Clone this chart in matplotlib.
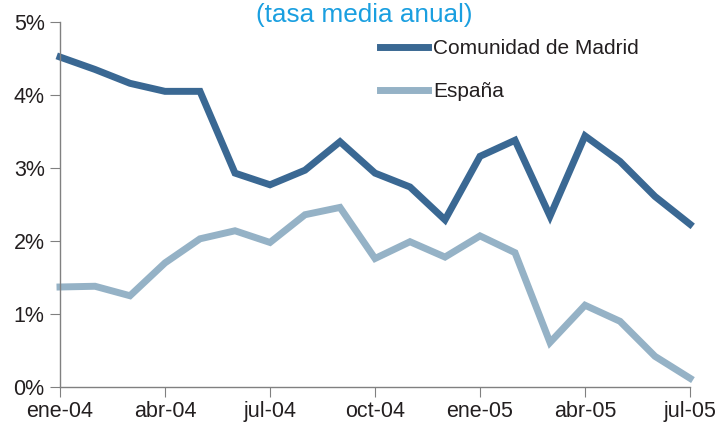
import numpy as np
import matplotlib
matplotlib.use("Agg")
import matplotlib.pyplot as plt

plt.rcParams['font.family'] = ['Liberation Sans', 'DejaVu Sans']

# ============================ DATA ============================
months = ["ene-04", "feb-04", "mar-04", "abr-04", "may-04", "jun-04", "jul-04",
          "ago-04", "sep-04", "oct-04", "nov-04", "dic-04", "ene-05", "feb-05",
          "mar-05", "abr-05", "may-05", "jun-05", "jul-05"]
madrid = [4.52, 4.35, 4.16, 4.05, 4.05, 2.93, 2.77, 2.97, 3.36, 2.93, 2.74,
          2.29, 3.16, 3.38, 2.34, 3.44, 3.09, 2.61, 2.23]
espana = [1.37, 1.38, 1.25, 1.70, 2.03, 2.14, 1.98, 2.36, 2.46, 1.76, 1.99,
          1.78, 2.07, 1.84, 0.61, 1.12, 0.90, 0.42, 0.12]
tick_labels = ["ene-04", "abr-04", "jul-04", "oct-04", "ene-05", "abr-05", "jul-05"]
y_ticks = [0, 1, 2, 3, 4, 5]

# ============================ PLOT ============================
fig = plt.figure(figsize=(7.2, 4.3), dpi=100)
ax = fig.add_axes([60 / 720, 43 / 430, 630 / 720, 365 / 430])

x = np.arange(len(months))
ax.plot(x, madrid, color="#3a6893", lw=5, solid_joinstyle="miter",
        label="Comunidad de Madrid", clip_on=False)
ax.plot(x, espana, color="#95b2c6", lw=5, solid_joinstyle="miter",
        label="España", clip_on=False)

ax.set_xlim(0, len(months) - 1)
ax.set_ylim(0, 5)
ax.set_xticks([months.index(m) for m in tick_labels])
ax.set_xticklabels(tick_labels)
ax.set_yticks(y_ticks)
ax.set_yticklabels([f"{v}%" for v in y_ticks])

for side in ["top", "right"]:
    ax.spines[side].set_visible(False)
for side in ["left", "bottom"]:
    ax.spines[side].set_color("#808080")
    ax.spines[side].set_linewidth(1)
ax.tick_params(axis="y", direction="out", length=7, color="#808080",
               labelsize=15.5, pad=4, labelcolor="#231f20")
ax.tick_params(axis="x", direction="out", length=7, color="#808080",
               labelsize=15.5, pad=3, labelcolor="#231f20")

ax.legend(loc="upper left", bbox_to_anchor=(380 / 720, 1 - 39 / 430),
          bbox_transform=fig.transFigure, frameon=False, fontsize=15,
          handlelength=2.3, handletextpad=0.25, labelspacing=1.15,
          borderpad=0, borderaxespad=0, labelcolor="#231f20")

fig.text(364 / 720, 1 - 22 / 430, "(tasa media anual)", ha="center",
         va="baseline", fontsize=18.8, color="#1a9fe0")

fig.savefig("out.png", dpi=100)
